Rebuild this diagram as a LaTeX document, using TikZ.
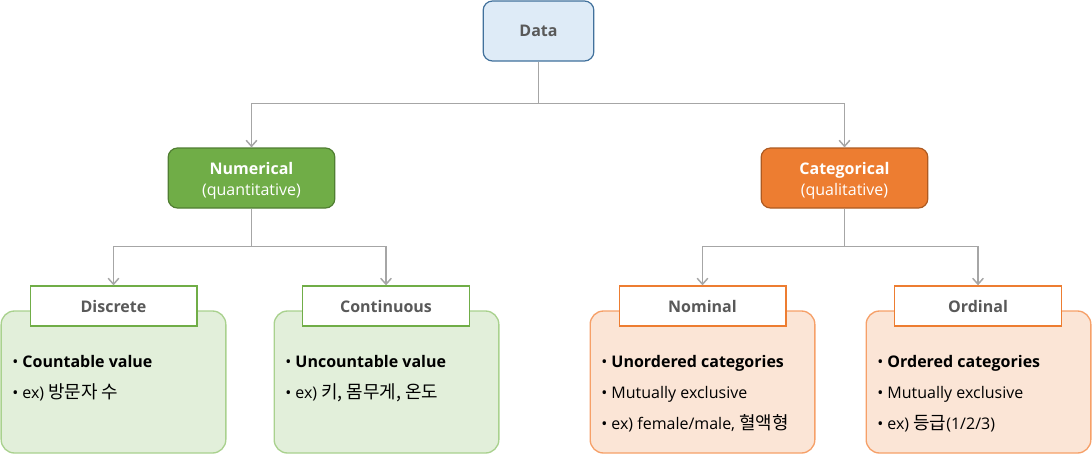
\documentclass[tikz,border=0pt]{standalone}
\usepackage{fontspec}
\setmainfont{Open Sans}
\newfontfamily\kr[Scale=1.12]{Noto Sans CJK KR}
\usepackage{tikz}
\usetikzlibrary{arrows.meta}
\definecolor{datafill}{HTML}{DEEBF7}
\definecolor{dataline}{HTML}{41719C}
\definecolor{numfill}{HTML}{70AD47}
\definecolor{numline}{HTML}{507E32}
\definecolor{catfill}{HTML}{ED7D31}
\definecolor{catline}{HTML}{AE5A21}
\definecolor{greenbody}{HTML}{E2EFDA}
\definecolor{greenedge}{HTML}{A9D18E}
\definecolor{orangebody}{HTML}{FBE5D6}
\definecolor{orangeedge}{HTML}{F6A068}
\definecolor{linegray}{HTML}{A6A6A6}
\definecolor{txtgray}{HTML}{595959}

\begin{document}
\begin{tikzpicture}[x=0.75pt,y=-0.75pt,
	every node/.style={font=\fontsize{12}{14}\selectfont},
	topbox/.style={draw=dataline,fill=datafill,rounded corners=7pt,line width=0.9pt,
		minimum width=83pt,minimum height=45pt,text=txtgray,font=\fontsize{12}{14}\selectfont\bfseries},
	midbox/.style={rounded corners=7pt,line width=0.9pt,minimum width=125pt,minimum height=45pt,
		text=white,align=center,inner sep=0pt,font=\fontsize{12}{15.5}\selectfont},
	body/.style={rounded corners=10pt,line width=1pt,minimum width=168.5pt,minimum height=106.5pt},
	head/.style={fill=white,line width=1pt,minimum width=125pt,minimum height=30pt,
		text=txtgray,font=\fontsize{12}{14}\selectfont\bfseries},
	items/.style={anchor=north west,align=left,inner sep=0pt,
		execute at begin node={\setlength{\baselineskip}{23.1pt}}},
	conn/.style={draw=linegray,line width=1.1pt,-{Straight Barb[length=4.5pt,width=8pt]}}]
	\useasboundingbox (0,0) rectangle (1092,455);

	\node[topbox] (data) at (538.5,31){Data};
	\node[midbox,draw=numline,fill=numfill] (num) at (251.5,178)
		{\rule{0pt}{13.5pt}\textbf{Numerical}\\(quantitative)};
	\node[midbox,draw=catline,fill=catfill] (cat) at (844.5,178)
		{\rule{0pt}{13.5pt}\textbf{Categorical}\\(qualitative)};

	% bodies
	\node[body,draw=greenedge,fill=greenbody] (discb) at (113.5,382){};
	\node[body,draw=greenedge,fill=greenbody] (contb) at (386.5,382){};
	\node[body,draw=orangeedge,fill=orangebody] (nomb) at (702.5,382){};
	\node[body,draw=orangeedge,fill=orangebody] (ordb) at (978.5,382){};

	% headers
	\node[head,draw=numfill] (disc) at (113.5,306){Discrete};
	\node[head,draw=numfill] (cont) at (386,306){Continuous};
	\node[head,draw=catfill] (nom) at (702.5,306){Nominal};
	\node[head,draw=catfill] (ord) at (978,306){Ordinal};

	% items
	\node[items] (disct) at (12,355.5){\textbullet\ \textbf{Countable value}\\
		\textbullet\ ex) {\kr 방문자 수}};
	\node[items] (contt) at (285,355.5){\textbullet\ \textbf{Uncountable value}\\
		\textbullet\ ex) {\kr 키, 몸무게, 온도}};
	\node[items] (nomt) at (601,355.5){\textbullet\ \textbf{Unordered categories}\\
		\textbullet\ Mutually exclusive\\
		\textbullet\ ex) female/male, {\kr 혈액형}};
	\node[items] (ordt) at (877,355.5){\textbullet\ \textbf{Ordered categories}\\
		\textbullet\ Mutually exclusive\\
		\textbullet\ ex) {\kr 등급}(1/2/3)};

	%edges
	\draw[conn] (data.south) -- ++(0,42) -| (num.north);
	\draw[conn] (data.south) -- ++(0,42) -| (cat.north);
	\draw[conn] (num.south) -- ++(0,38) -| (disc.north);
	\draw[conn] (num.south) -- ++(0,38) -| (cont.north);
	\draw[conn] (cat.south) -- ++(0,38) -| (nom.north);
	\draw[conn] (cat.south) -- ++(0,38) -| (ord.north);
\end{tikzpicture}
\end{document}
